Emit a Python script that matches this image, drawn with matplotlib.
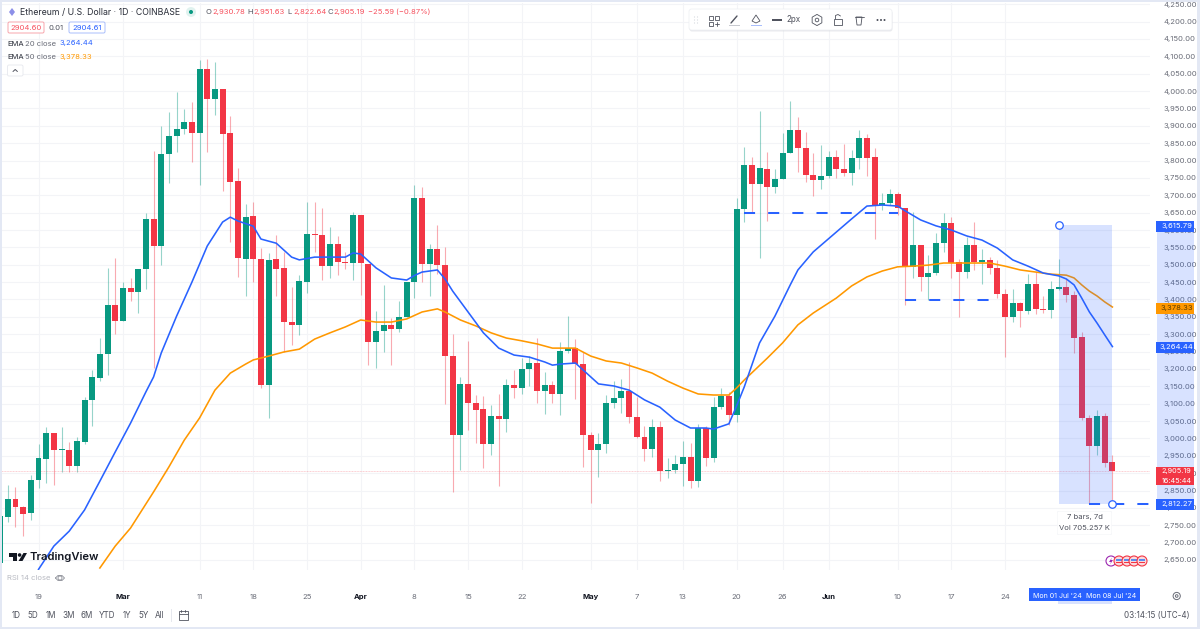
import numpy as np
from matplotlib import pyplot as plt
from matplotlib.patches import Circle, FancyBboxPatch, Polygon, Rectangle, RegularPolygon

plt.rcParams["font.family"] = ["Inter", "DejaVu Sans"]

# daily candles, day 0 is 19 Feb 2024, last bar (140) is 8 Jul 2024
opens = [2641, 2774, 2826, 2803, 2785, 2880, 2941, 3016, 2967, 2967, 2921, 2990, 3111, 3174, 3243, 3384,
         3338, 3433, 3422, 3488, 3632, 3554, 3819, 3871, 3891, 3911, 3879, 4064, 3977, 4006, 3879, 3741,
         3517, 3640, 3517, 3154, 3517, 3491, 3335, 3327, 3450, 3589, 3586, 3496, 3560, 3508, 3505, 3643,
         3502, 3278, 3309, 3327, 3315, 3350, 3450, 3692, 3502, 3545, 3499, 3237, 3010, 3157, 3102, 3085,
         2984, 3065, 3056, 3154, 3145, 3200, 3217, 3137, 3154, 3128, 3252, 3260, 3214, 3010, 2967, 2984,
         3102, 3116, 3137, 3062, 3004, 2970, 3033, 2906, 2909, 2926, 2947, 2877, 3030, 2944, 3090, 3122,
         3067, 3661, 3787, 3732, 3776, 3724, 3747, 3822, 3888, 3836, 3758, 3744, 3756, 3810, 3776, 3764,
         3807, 3865, 3810, 3672, 3678, 3704, 3663, 3494, 3557, 3465, 3476, 3563, 3620, 3508, 3479, 3557,
         3508, 3514, 3491, 3416, 3350, 3390, 3367, 3445, 3373, 3370, 3430, 3436, 3413, 3292, 3059, 2978,
         3065, 2930.78]
highs = [2777, 2866, 2860, 2805, 2895, 2984, 3033, 3016, 3033, 2990, 3004, 3119, 3197, 3289, 3491, 3519,
         3450, 3462, 3488, 3649, 3828, 3899, 3940, 3997, 3948, 3968, 4090, 4092, 4084, 4006, 3928, 3779,
         3675, 3681, 3548, 3534, 3586, 3537, 3436, 3471, 3681, 3681, 3663, 3609, 3583, 3537, 3652, 3643,
         3502, 3367, 3442, 3347, 3396, 3450, 3730, 3724, 3560, 3614, 3551, 3301, 3177, 3281, 3125, 3122,
         3096, 3128, 3171, 3197, 3232, 3237, 3289, 3191, 3165, 3278, 3352, 3286, 3249, 3018, 3016, 3125,
         3165, 3171, 3220, 3119, 3036, 3056, 3050, 2944, 2952, 2993, 2987, 3042, 3036, 3119, 3145, 3134,
         3692, 3839, 3810, 3943, 3825, 3776, 3879, 3971, 3925, 3882, 3822, 3845, 3828, 3830, 3848, 3830,
         3888, 3876, 3836, 3707, 3718, 3709, 3663, 3652, 3557, 3528, 3591, 3649, 3637, 3517, 3580, 3623,
         3545, 3522, 3514, 3430, 3430, 3393, 3473, 3479, 3410, 3453, 3517, 3459, 3424, 3306, 3067, 3082,
         3073, 2951.63]
lows = [2641, 2759, 2745, 2719, 2765, 2857, 2872, 2866, 2903, 2903, 2903, 2984, 3036, 3165, 3183, 3301,
        3338, 3396, 3361, 3430, 3203, 3499, 3735, 3825, 3876, 3796, 3730, 3825, 3931, 3712, 3566, 3465,
        3410, 3450, 3145, 3059, 3410, 3249, 3269, 3298, 3419, 3537, 3456, 3462, 3471, 3488, 3456, 3413,
        3211, 3203, 3249, 3211, 3306, 3350, 3404, 3450, 3410, 3473, 3099, 2846, 2909, 3024, 2987, 2915,
        2952, 2863, 3018, 3116, 3128, 3151, 3102, 3070, 3102, 3067, 3246, 3113, 2918, 2814, 2889, 2958,
        3088, 3073, 3044, 3001, 2935, 2947, 2877, 2886, 2900, 2863, 2857, 2860, 2921, 2932, 3085, 3039,
        3047, 3623, 3652, 3519, 3626, 3707, 3747, 3822, 3767, 3738, 3698, 3718, 3750, 3750, 3756, 3730,
        3776, 3756, 3574, 3658, 3672, 3643, 3384, 3462, 3424, 3399, 3471, 3537, 3462, 3350, 3462, 3485,
        3445, 3473, 3404, 3234, 3335, 3321, 3358, 3358, 3361, 3347, 3427, 3393, 3246, 3053, 2811, 2952,
        2918, 2822.64]
closes = [2777, 2826, 2803, 2782, 2880, 2944, 3016, 2967, 2970, 2921, 2993, 3111, 3177, 3243, 3384, 3338,
          3433, 3422, 3488, 3632, 3554, 3819, 3871, 3891, 3911, 3879, 4064, 3977, 4006, 3876, 3738, 3519,
          3637, 3517, 3154, 3514, 3488, 3335, 3327, 3453, 3589, 3586, 3496, 3560, 3508, 3505, 3643, 3505,
          3278, 3309, 3327, 3315, 3350, 3450, 3692, 3502, 3545, 3499, 3237, 3010, 3157, 3102, 3082, 2984,
          3065, 3056, 3154, 3145, 3200, 3217, 3137, 3154, 3128, 3252, 3260, 3214, 3010, 2967, 2984, 3102,
          3116, 3137, 3062, 3004, 2970, 3033, 2906, 2909, 2926, 2947, 2877, 3030, 2944, 3090, 3122, 3067,
          3661, 3787, 3732, 3779, 3724, 3747, 3822, 3888, 3836, 3758, 3744, 3756, 3810, 3776, 3764, 3807,
          3865, 3807, 3672, 3678, 3704, 3663, 3494, 3557, 3465, 3476, 3563, 3620, 3505, 3479, 3557, 3508,
          3514, 3491, 3416, 3350, 3390, 3367, 3445, 3373, 3370, 3430, 3436, 3413, 3289, 3059, 2978, 3065,
          2929, 2905.19]

ema20_days = [0, 2, 4, 6, 8, 10, 12, 14, 15, 16, 18, 20, 22, 24, 25, 26, 28, 29, 31, 33, 34, 36, 38, 40, 41, 42,
              44, 46, 48, 49, 50, 52, 53, 54, 56, 58, 60, 62, 64, 66, 67, 68, 70, 71, 73, 75, 77, 79, 81, 83,
              85, 87, 88, 90, 91, 92, 94, 96, 98, 99, 101, 104, 106, 108, 110, 112, 113, 115, 117, 119, 121,
              123, 125, 127, 129, 131, 133, 134, 135, 136, 137, 138, 139, 140]
ema20 = [2623, 2690, 2733, 2794, 2877, 2961, 3044, 3134, 3177, 3246, 3352, 3450, 3554, 3623, 3637, 3626, 3611,
         3574, 3562, 3522, 3514, 3522, 3522, 3522, 3534, 3531, 3491, 3462, 3456, 3469, 3479, 3485, 3459, 3424,
         3364, 3304, 3260, 3240, 3234, 3220, 3211, 3214, 3217, 3197, 3157, 3151, 3139, 3111, 3090, 3053, 3030,
         3030, 3027, 3042, 3093, 3148, 3275, 3352, 3442, 3485, 3537, 3594, 3632, 3669, 3672, 3669, 3655, 3629,
         3612, 3600, 3583, 3571, 3548, 3514, 3496, 3476, 3468, 3459, 3442, 3404, 3364, 3332, 3298, 3264.44]

ema50_days = [8, 10, 12, 15, 17, 19, 21, 23, 25, 27, 28, 30, 32, 34, 36, 38, 40, 42, 44, 46, 48, 50, 52, 53, 55,
              57, 59, 61, 63, 65, 67, 70, 72, 74, 76, 78, 80, 82, 84, 86, 88, 90, 91, 92, 95, 97, 99, 101, 104,
              106, 108, 110, 112, 114, 116, 118, 120, 122, 124, 126, 128, 130, 132, 134, 135, 136, 137, 138,
              139, 140]
ema50 = [2627, 2690, 2742, 2846, 2918, 2995, 3059, 3139, 3188, 3214, 3226, 3237, 3249, 3257, 3286, 3304, 3321,
         3341, 3335, 3335, 3344, 3364, 3373, 3364, 3341, 3324, 3304, 3289, 3281, 3272, 3260, 3260, 3237, 3223,
         3217, 3203, 3188, 3165, 3145, 3128, 3125, 3125, 3145, 3168, 3231, 3275, 3327, 3361, 3404, 3439, 3465,
         3482, 3494, 3496, 3499, 3505, 3505, 3505, 3505, 3496, 3485, 3479, 3473, 3470, 3462, 3442, 3424, 3410,
         3393, 3378.33]

tick_days = [0, 11, 21, 28, 35, 42, 49, 56, 63, 72, 78, 84, 91, 97, 103, 112, 119, 126]
tick_labels = ["19", "Mar", "11", "18", "25", "Apr", "8", "15", "22", "May", "7", "13", "20", "26", "Jun", "10", "17", "24"]
month_labels = ["Mar", "Apr", "May", "Jun"]
price_ticks = np.arange(2650, 4251, 50)
range_labels = ["1D", "5D", "1M", "3M", "6M", "YTD", "1Y", "5Y", "All"]

GREEN = "#089981"
RED = "#F23645"
BLUE = "#2962FF"
ORANGE = "#FF9800"
GRID = "#F3F4F7"
TEXT = "#6A6D78"

fig = plt.figure(figsize=(12, 6.29), dpi=100)
# pixel box of the chart pane: x 0-1150, y 3-570
ax = fig.add_axes([0, 59 / 629, 1150 / 1200, 567 / 629])
ax.set_xlim(-5.02, 144.9)
ax.set_ylim(2621.2, 4253.6)
for s in ax.spines.values():
    s.set_visible(False)
ax.set_axisbelow(True)
ax.grid(color=GRID, lw=0.8)

ax.yaxis.tick_right()
ax.set_yticks(price_ticks)
ax.set_yticklabels([f"{p:,.2f}" for p in price_ticks])
ax.set_xticks(tick_days)
ax.set_xticklabels(tick_labels)
ax.tick_params(axis="y", length=0, pad=9.4, labelsize=5.5, labelcolor=TEXT)
ax.tick_params(axis="x", length=0, pad=17, labelsize=5.5, labelcolor=TEXT)
for lab in ax.get_xticklabels():
    if lab.get_text() in month_labels:
        lab.set_fontweight("bold")
        lab.set_color("#131722")

days = np.arange(len(opens)) - 5
opens = np.array(opens)
closes = np.array(closes)
colors = np.where(closes >= opens, GREEN, RED)

ax.vlines(days, lows, highs, colors=colors, lw=0.8, alpha=0.42, zorder=2)
ax.bar(days, np.abs(closes - opens), bottom=np.minimum(opens, closes), width=0.78, color=colors, lw=0, zorder=3)

ax.axhline(closes[-1], color=RED, lw=0.7, ls=(0, (1, 0.6)), alpha=0.25, zorder=2)
ax.plot(ema50_days, ema50, color=ORANGE, lw=1.15, zorder=4)
ax.plot(ema20_days, ema20, color=BLUE, lw=1.15, zorder=4)

# horizontal levels drawn by hand on the chart
for d0, d1, lvl in [(92, 112, 3650), (113, 125.5, 3398), (137, 144.8, 2812.27)]:
    ax.plot([d0, d1], [lvl, lvl], color=BLUE, lw=1.45, dashes=(5.5, 6.5), dash_capstyle="butt", zorder=5)

# date range selection
ax.add_patch(Rectangle((133, 2812.27), 7, 3615.79 - 2812.27, color=BLUE, alpha=0.18, lw=0, zorder=6))
ax.plot([133, 140], [3615.79, 2812.27], ls="", marker="o", ms=5.4, mfc="white", mec=BLUE, mew=0.9, zorder=7)

# everything around the chart, in pixels
ov = fig.add_axes([0, 0, 1, 1], zorder=5)
ov.set_xlim(0, 1200)
ov.set_ylim(629, 0)
ov.axis("off")


def txt(x, y, s, color="#131722", size=5.5, ha="left", **kw):
    ov.text(x, y, s, color=color, fontsize=size, ha=ha, va="center", **kw)


def rect(x0, y0, x1, y1, color, **kw):
    ov.add_patch(Rectangle((x0, y0), x1 - x0, y1 - y0, color=color, lw=0, **kw))


def line(xs, ys, color="#50535E", lw=0.7):
    ov.plot(xs, ys, color=color, lw=lw, solid_capstyle="round")


# frame and pane separators
border = "#E3E8F4"
rect(0, 0, 1200, 2.2, border)
rect(0, 0, 2, 629, border)
rect(1197, 0, 1200, 629, border)
rect(0, 626.5, 1200, 629, border)
for yy in [569.5, 587.5, 603.5]:
    rect(2, yy, 1197, yy + 0.8, "#F0F2F7")

# price scale selection band and value labels
rect(1157, 226, 1194, 504, BLUE, alpha=0.18)
rect(1058, 601, 1112, 604, BLUE, alpha=0.18)
for yc, label, col in [(226, "3,615.79", BLUE), (308, "3,378.33", ORANGE), (347, "3,264.44", BLUE), (504, "2,812.27", BLUE)]:
    rect(1156, yc - 5.5, 1194, yc + 5.5, col)
    txt(1176.5, yc, label, color="#5A3A00" if col == ORANGE else "white", ha="center")
rect(1156, 467, 1194, 485, RED)
txt(1176.5, 471, "2,905.19", color="white", ha="center", size=5.3)
txt(1176.5, 480.6, "16:45:44", color="white", ha="center", size=5.3)

# time scale selection
rect(1029, 588, 1140, 601, BLUE)
txt(1057, 595.5, "Mon 01 Jul '24", color="white", ha="center", size=5.1)
txt(1111, 595.5, "Mon 08 Jul '24", color="white", ha="center", size=5.1)

# legend block
ov.add_patch(Polygon([(12, 8), (15, 12), (12, 16), (9, 12)], color="#8C8FE8", lw=0))
txt(20, 12, "Ethereum / U.S. Dollar · 1D · COINBASE", color="#2A2E39", size=6.3)
ov.add_patch(Circle((191, 12), 5, color=GREEN, alpha=0.12, lw=0))
ov.add_patch(Circle((191, 12), 2, color=GREEN, lw=0))
for x, letter, value in [(206, "O", "2,930.78"), (247, "H", "2,951.63"), (287, "L", "2,822.64"), (327, "C", "2,905.19")]:
    txt(x, 12, letter, color="#50535E")
    txt(x + 6, 12, value, color="#F7525F")
txt(368, 12, "−25.59 (−0.87%)", color="#F7525F")

ov.add_patch(FancyBboxPatch((8, 22), 36, 11, boxstyle="round,pad=0,rounding_size=1.5", fc="white", ec="#F7A5AC", lw=0.7))
txt(26, 27.7, "2904.60", color="#F7525F", ha="center")
txt(56, 27.7, "0.01", color="#50535E", ha="center")
ov.add_patch(FancyBboxPatch((69, 22), 36, 11, boxstyle="round,pad=0,rounding_size=1.5", fc="white", ec="#A9BEFB", lw=0.7))
txt(87, 27.7, "2904.61", color=BLUE, ha="center")

txt(7, 43.5, "EMA", color="#2A2E39")
txt(25, 43.5, "20 close", color=TEXT)
txt(59, 43.5, "3,264.44", color=BLUE)
txt(7, 57, "EMA", color="#2A2E39")
txt(25, 57, "50 close", color=TEXT)
txt(59, 57, "3,378.33", color=ORANGE)
ov.add_patch(FancyBboxPatch((7.5, 65), 15.5, 11, boxstyle="round,pad=0,rounding_size=1.5", fc="white", ec="#E6E8EE", lw=0.6))
line([13, 15.2, 17.4], [71.5, 69.5, 71.5], lw=0.7)

# range tool tooltip
ov.add_patch(FancyBboxPatch((1057, 511), 55, 24, boxstyle="round,pad=0,rounding_size=1.5", fc="#EEF0F4", ec="none", alpha=0.8))
ov.add_patch(FancyBboxPatch((1057.5, 511.5), 54, 23, boxstyle="round,pad=0,rounding_size=1.5", fc="white", ec="none"))
txt(1084.5, 517.5, "7 bars, 7d", color="#50535E", ha="center")
txt(1084.5, 528, "Vol 705.257 K", color="#50535E", ha="center")

# event markers at the chart bottom
ov.add_patch(Circle((1111, 561), 5, fc="white", ec="#9C27B0", lw=0.8))
ov.add_patch(Polygon([(1112, 557.5), (1109, 562), (1111, 562), (1110, 564.5), (1113, 560), (1111, 560)], color="#9C27B0", lw=0))
for x in [1119, 1127, 1134, 1142]:
    ov.add_patch(Circle((x, 561), 5, fc="#FBD9DC", ec=RED, lw=0.8))
    rect(x - 3, 558.5, x + 3, 560.5, "#5B8DEF")
    rect(x - 3, 561.5, x + 3, 563, RED)

# watermark
ov.add_patch(Polygon([(9, 553), (17, 553), (17, 561), (13, 561), (13, 557), (9, 557)], color="#131722", lw=0))
ov.add_patch(Circle((19.6, 555), 1.8, color="#131722", lw=0))
ov.add_patch(Polygon([(23.5, 553), (27, 553), (22.5, 561), (18.5, 561)], color="#131722", lw=0))
txt(30, 557, "TradingView", size=8.1, fontweight="semibold")

# RSI pane stub
txt(7, 578, "RSI 14 close", color="#B8BAC2")
eye = Circle((60, 578), 2, fc="none", ec="#8A8D96", lw=0.6)
ov.add_patch(eye)
line([55.5, 58, 62, 64.5, 62, 58, 55.5], [578, 575.5, 575.5, 578, 580.5, 580.5, 578], color="#8A8D96", lw=0.6)

# settings button on the time scale
ov.add_patch(Circle((1176.7, 596), 3.6, fc="none", ec="#6A6D78", lw=0.7))
ov.add_patch(Circle((1176.7, 596), 1.3, fc="none", ec="#6A6D78", lw=0.7))

# bottom bar
for x, label in zip([16, 33, 51, 69, 87, 107, 127, 144, 160], range_labels):
    txt(x, 615.5, label, color="#50535E", ha="center", size=5.8)
rect(171, 609, 171.7, 622, "#E6E8EE")
ov.add_patch(Rectangle((178.5, 611), 9, 9, fc="none", ec="#50535E", lw=0.6))
line([178.5, 187.5], [613.5, 613.5], lw=0.6)
line([181, 181], [610, 612], lw=0.6)
line([185, 185], [610, 612], lw=0.6)
txt(1190, 615.5, "03:14:15 (UTC-4)", color="#50535E", ha="right", size=5.8)

# floating drawing toolbar
ov.add_patch(FancyBboxPatch((689.5, 10.5), 203, 21, boxstyle="round,pad=0,rounding_size=2.5", fc="#D8DAE0", ec="none", alpha=0.55))
ov.add_patch(FancyBboxPatch((689, 9), 203, 21, boxstyle="round,pad=0,rounding_size=2.5", fc="white", ec="#ECEEF2", lw=0.5))
for yy in [17, 20, 23]:
    for xx in [694.5, 697.5]:
        ov.add_patch(Circle((xx, yy), 0.6, color="#D5D7DD", lw=0))
# layout icon
for xx, yy in [(709, 16), (715, 16), (709, 22)]:
    ov.add_patch(Rectangle((xx, yy), 4, 4, fc="none", ec="#50535E", lw=0.6))
line([715, 719], [24, 24], lw=0.6)
line([717, 717], [22, 26], lw=0.6)
# pencil
line([731, 737], [23, 16], lw=1)
rect(729, 24.5, 740, 25.5, "#C8CAD0")
# fill bucket
ov.add_patch(Polygon([(752, 21), (756, 15), (760, 21), (756, 23)], fc="none", ec="#50535E", lw=0.6))
rect(751, 24.5, 762, 25.5, "#A9BEFB")
# line width
rect(772, 19.4, 782, 20.6, "#50535E")
txt(786, 20, "2px", color="#50535E", size=5.8)
# source settings
ov.add_patch(RegularPolygon((817, 20), 6, radius=5.6, fc="none", ec="#50535E", lw=0.6))
ov.add_patch(Circle((817, 20), 1.8, fc="none", ec="#50535E", lw=0.6))
# lock
ov.add_patch(Rectangle((834, 19), 8, 6, fc="none", ec="#50535E", lw=0.6))
line([835.5, 835.5, 838, 840.5], [19, 15.5, 14.5, 16], lw=0.6)
# trash
ov.add_patch(Polygon([(856, 17), (862, 17), (861, 25), (857, 25)], fc="none", ec="#50535E", lw=0.6))
line([854.5, 863.5], [16.5, 16.5], lw=0.6)
for xx in [877.5, 881, 884.5]:
    ov.add_patch(Circle((xx, 20), 1, color="#50535E", lw=0))

fig.savefig("out.png", dpi=100, facecolor="white")
